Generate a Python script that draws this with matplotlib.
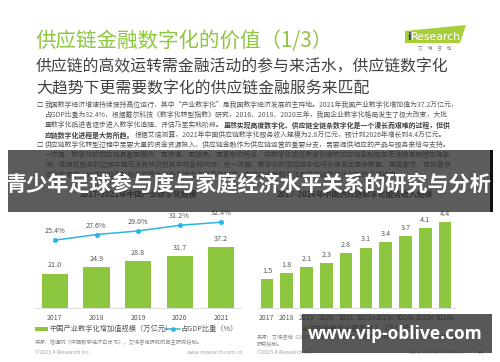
"""Slide: supply-chain finance digitalisation value (1/3), with banner and watermark."""
import matplotlib
matplotlib.use("Agg")
import matplotlib.pyplot as plt
from matplotlib.patches import Rectangle, Polygon
from matplotlib.lines import Line2D
import numpy as np

plt.rcParams["font.family"] = ["Noto Sans CJK SC", "DejaVu Sans"]

W, H = 500, 362
GREEN, CYAN, GREY, DARK = "#8dc63f", "#2cb5e3", "#595959", "#404040"

# ---------- data ----------
years_a = ["2017", "2018", "2019", "2020", "2021"]
scale_a = [21.0, 24.9, 28.8, 31.7, 37.2]          # 万亿元
share_a = [25.4, 27.6, 29.0, 31.2, 32.4]          # % of GDP
years_b = ["2017", "2018", "2019", "2020", "2021",
           "2022e", "2023e", "2024e", "2025e", "2026e"]
revenue_b = [1.5, 1.8, 2.1, 2.3, 2.8, 3.1, 3.4, 3.7, 4.1, 4.4]  # 万亿元

title = "供应链金融数字化的价值（1/3）"
subtitle = ["供应链的高效运转需金融活动的参与来活水，供应链数字化",
            "大趋势下更需要数字化的供应链金融服务来匹配"]
# (normal, bold, normal) pieces per line
body = [
    ("我国数字经济增速持续保持高位运行，其中“产业数字化”是我国数字经济发展的主阵地。2021年我国产业数字化增加值为37.2万亿元，", "", ""),
    ("占GDP比重为32.4%，根据戴尔科技《数字化转型指数》研究，2016、2018、2020三年，我国企业数字化格局发生了极大改变，大批", "", ""),
    ("量数字化后进者逐步进入数字化追随、评估乃至实践阶段。", "虽然实现高度数字化、供应链全链条数字化是一个漫长而艰难的过程，但供", ""),
    ("", "应链数字化进程是大势所趋。", "根据艾瑞测算，2021年中国供应链数字化服务收入规模为2.8万亿元，预计到2026年增长到4.4万亿元。"),
    ("供应链数字化转型过程中需要大量的资金资源投入，供应链金融作为供应链运营的重要分支，需要提供相应的产品与服务来给与支持。", "", ""),
    ("一方面，数字化的供应链具备更高效、更快速、更协同、更复杂的特点，非数字化或低数字化度的供应链金融服务无法快速跟进实现协", "", ""),
    ("同，在提供服务的过程中更无法有效识别其中的各种风险；另一方面，数字化的供应链中也将会迸发出更多数量、更高要求、更加复杂", "", ""),
    ("的金融需求，对供应链金融服务的数字化能力提出了更高的要求，供应链金融数字化是供应链数字化发展的必然结果。", "", ""),
]
bullets = [0, 4]
banner = "青少年足球参与度与家庭经济水平关系的研究与分析"
watermark = "www.vip-oblive.com"

fig = plt.figure(figsize=(W / 100, H / 100), dpi=100)
fig.patch.set_facecolor("white")


def full_axes(z):
    a = fig.add_axes([0, 0, 1, 1], zorder=z)
    a.set_xlim(0, W); a.set_ylim(H, 0)
    a.axis("off"); a.patch.set_alpha(0)
    return a


bg = full_axes(-1)

# ---------- header ----------
bg.text(36, 41, title, fontsize=14.8, color=GREEN, va="center", ha="left")
bg.text(36, 67, subtitle[0], fontsize=11.4, color=DARK, va="center")
bg.text(36, 89, subtitle[1], fontsize=11.4, color=DARK, va="center")

bg.add_patch(Polygon([(405, 31), (466, 25), (460, 43), (405, 43)], closed=True,
                     fc="#a9cf38", ec="none"))
bg.text(407, 36.5, "i", fontsize=7.8, color="#1f3c74", va="center", fontweight="bold",
        family="DejaVu Sans")
bg.text(411, 36.5, "Research", fontsize=7.8, color="white", va="center", family="DejaVu Sans")
bg.text(435, 49, "艾    瑞    咨    询", fontsize=3.6, color="#8c8c8c", ha="center", va="center")

# ---------- body text ----------
for i, (a, b, c) in enumerate(body):
    y = 105 + 10 * i
    if i in bullets:
        bg.text(40, y, "□", fontsize=4.6, color=DARK, ha="center", va="center")
    prev = bg.text(45, y, a, fontsize=4.95, color=GREY, va="center")
    if b:
        prev = bg.annotate(b, xy=(1, 0.5), xycoords=prev, fontsize=4.95, color=DARK,
                           fontweight="bold", va="center", ha="left")
    if c:
        bg.annotate(c, xy=(1, 0.5), xycoords=prev, fontsize=4.95, color=GREY,
                    va="center", ha="left")

# ---------- chart titles ----------
bg.text(138, 194, "2017-2021年中国产业数字化规模", fontsize=5.6, color=DARK,
        fontweight="bold", ha="center", va="center")
bg.text(355, 194, "2017-2026年中国供应链数字化服务收入规模", fontsize=5.6, color=DARK,
        fontweight="bold", ha="center", va="center")


def chart_axes(x0, x1, xlim):
    a = fig.add_axes([x0 / W, 1 - 308 / H, (x1 - x0) / W, 103 / H], zorder=0)
    a.patch.set_alpha(0)
    for s in ("top", "right", "left"):
        a.spines[s].set_visible(False)
    a.spines["bottom"].set_color("#d9d9d9")
    a.spines["bottom"].set_linewidth(0.6)
    a.set_yticks([])
    a.set_xlim(*xlim)
    a.tick_params(axis="x", length=0, pad=4, labelsize=5, labelcolor=GREY)
    return a


# ---------- left chart ----------
axa = chart_axes(35, 242, (-0.48, 4.5))
xa = np.arange(len(years_a))
axa.bar(xa, scale_a, 0.63, color=GREEN)
axa.set_ylim(0, 62.8)
axa.set_xticks(xa); axa.set_xticklabels(years_a)
for x, v in zip(xa, scale_a):
    axa.annotate(f"{v:.1f}", (x, v), xytext=(0, 3), textcoords="offset points",
                 ha="center", va="bottom", fontsize=5.2, color=GREY)
axl = axa.twinx()
axl.set_ylim(-1, 39.1)
axl.axis("off")
axl.plot(xa, share_a, "-o", color=CYAN, lw=1.1, ms=2.6)
for x, v in zip(xa, share_a):
    axl.annotate(f"{v:.1f}%", (x, v), xytext=(0, 3.5), textcoords="offset points",
                 ha="center", va="bottom", fontsize=5.2, color=GREY, annotation_clip=False)

# left legend / source / footer
bg.add_patch(Rectangle((35, 327), 13, 4, fc=GREEN, ec="none"))
bg.text(49, 329, "中国产业数字化增加值规模（万亿元）", fontsize=5.2, color=GREY, va="center")
bg.add_line(Line2D([165, 180], [329, 329], color=CYAN, lw=1.1))
bg.plot([172.5], [329], "o", color=CYAN, ms=2.4)
bg.text(181, 329, "占GDP比重（%）", fontsize=5.2, color=GREY, va="center")
bg.text(35, 342, "来源：信通院《中国数字经济白皮书》，艾瑞咨询研究院自主研究绘制。",
        fontsize=3.8, color="#8c8c8c", va="center")
bg.text(35, 353, "©2023.4 iResearch Inc.", fontsize=3.8, color="#a0a0a0", va="center")
bg.text(243, 353, "www.iresearch.com.cn", fontsize=3.8, color="#a0a0a0", va="center", ha="right")

# ---------- right chart ----------
axb = chart_axes(258, 455, (-0.45, 9.5))
xb = np.arange(len(years_b))
axb.bar(xb, revenue_b, 0.63, color=GREEN)
axb.set_ylim(0, 5.28)
axb.set_xticks(xb); axb.set_xticklabels(years_b)
for x, v in zip(xb, revenue_b):
    axb.annotate(f"{v:.1f}", (x, v), xytext=(0, 3), textcoords="offset points",
                 ha="center", va="bottom", fontsize=5.2, color=GREY)

bg.add_patch(Rectangle((303, 326.5), 4, 4, fc=GREEN, ec="none"))
bg.text(309, 328.5, "供应链数字化服务收入（万亿元）", fontsize=5.2, color=GREY, va="center")
bg.text(257, 337, "来源：艾瑞咨询《2022年中国供应链数字化升级行业研究报告》，艾瑞咨询研究院自主",
        fontsize=3.8, color="#8c8c8c", va="center")
bg.text(257, 345, "研究绘制。", fontsize=3.8, color="#8c8c8c", va="center")
bg.text(257, 353, "©2023.4 iResearch Inc.", fontsize=3.8, color="#a0a0a0", va="center")
bg.text(465, 353, "www.iresearch.com.cn", fontsize=3.8, color="#a0a0a0", va="center", ha="right")
bg.text(481, 353, "14", fontsize=4.2, color="#8c8c8c", va="center", ha="center")

# ---------- overlays ----------
top = full_axes(10)
top.add_patch(Rectangle((8, 150), 482, 62, fc="#2e2e2e", alpha=0.78, ec="none"))
top.add_patch(Rectangle((490, 150), 3, 62, fc="#111111", ec="none"))
top.text(249, 184, banner, fontsize=15.2, color="white", fontweight="bold",
         ha="center", va="center")
top.add_patch(Rectangle((302, 314), 190, 39, fc="#2e2e2e", alpha=0.8, ec="none"))
top.text(395, 334, watermark, fontsize=12.5, color="white", fontweight="bold",
         ha="center", va="center", family="Open Sans")

fig.savefig("out.png", dpi=100)
